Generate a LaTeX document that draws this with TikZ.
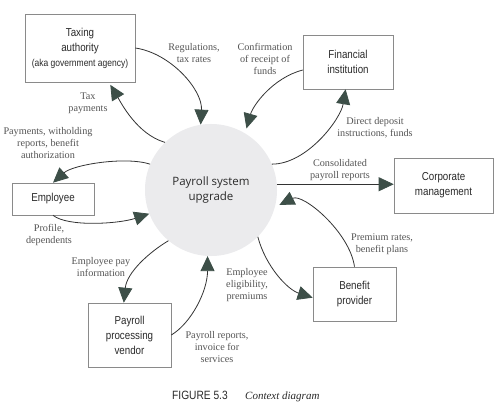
\documentclass[tikz,border=0pt]{standalone}
\usepackage{fontspec}
\setmainfont{Liberation Serif}
\newfontfamily\boxfont[FakeStretch=0.85]{Liberation Sans}
\newfontfamily\circfont{Open Sans}
\usetikzlibrary{arrows.meta}
\definecolor{boxline}{HTML}{8A8A8A}
\definecolor{boxtext}{HTML}{2A2A2A}
\definecolor{lbltext}{HTML}{555555}
\definecolor{flowline}{HTML}{333333}
\definecolor{headcol}{HTML}{3D4F48}
\definecolor{circfill}{HTML}{EBEBED}
\begin{document}
\begin{tikzpicture}[x=1pt,y=-1pt,
  box/.style={draw=boxline, line width=0.6pt, fill=white, inner sep=0pt, align=center,
    font=\boxfont\fontsize{11.5}{15}\selectfont, text=boxtext},
  lbl/.style={align=center, font=\fontsize{10.2}{12}\selectfont, text=lbltext, inner sep=0pt},
  flow/.style={draw=flowline, line width=0.8pt,
    -{Triangle[length=15pt,width=14pt,color=headcol,fill=headcol]}},
]
\useasboundingbox (0,0) rectangle (503,406);
\fill[white] (0,0) rectangle (503,406);

% central process
\node[circle, fill=circfill, minimum size=132pt, inner sep=0pt, align=center,
  font=\circfont\fontsize{11.5}{15}\selectfont, text=boxtext] (c) at (211,190) {Payroll system\\upgrade};

% external entities
\node[box, minimum width=110pt, minimum height=68pt] (tax) at (80,48)
  {Taxing\\authority\\{\fontsize{10}{13}\selectfont(aka government agency)}};
\node[box, minimum width=90pt, minimum height=54pt] (fin) at (348,62) {Financial\\institution};
\node[box, minimum width=99pt, minimum height=55pt] (corp) at (443.5,185.5) {Corporate\\management};
\node[box, minimum width=82pt, minimum height=32pt] (emp) at (53,199) {Employee};
\node[box, minimum width=83pt, minimum height=64pt] (ven) at (129.5,335) {Payroll\\processing\\vendor};
\node[box, minimum width=83pt, minimum height=54pt] (ben) at (354.5,294) {Benefit\\provider};

% flows
\draw[flow] (tax.east) .. controls +(35,5) and +(2,-35) .. (c.99);
\draw[flow, shorten >=3pt] (c.134) .. controls +(-28,-8) and +(12,20) .. (tax.-50);
\draw[flow] (c.157) .. controls +(-25,-8) and +(20,-18) .. (emp.north);
\draw[flow] (emp.south) .. controls +(15,12) and +(-30,10) .. (c.201);
\draw[flow] (c.230) .. controls +(-20,12) and +(3,-30) .. (ven.100);
\draw[flow] (ven.east) .. controls +(20,-12) and +(0,35) .. (c.267);
\draw[flow] (c.315) .. controls +(8,30) and +(-25,-8) .. (ben.185);
\draw[flow, shorten >=5pt] (ben.north) .. controls +(-5,-35) and +(28,-14) .. (c.345);
\draw[flow] (c.5) -- (c.5 -| corp.west);
\draw[flow] (c.23) .. controls +(35,0) and +(-5,30) .. (fin.265);
\draw[flow, shorten >=5pt] (fin.190) .. controls +(-30,8) and +(8,-28) .. (c.59);

% flow labels
\node[lbl] (l1) at (194,53) {Regulations,\\tax rates};
\node[lbl] (l11) at (265,59) {Confirmation\\of receipt of\\funds};
\node[lbl] (l2) at (88,103) {Tax\\payments};
\node[lbl] (l3) at (48,143) {Payments, witholding\\reports, benefit\\authorization};
\node[lbl] (l4) at (49,235) {Profile,\\dependents};
\node[lbl] (l5) at (101,267) {Employee pay\\information};
\node[lbl] (l6) at (217,347) {Payroll reports,\\invoice for\\services};
\node[lbl] (l7) at (247,285) {Employee\\eligibility,\\premiums};
\node[lbl] (l8) at (382,244) {Premium rates,\\benefit plans};
\node[lbl] (l9) at (340,170) {Consolidated\\payroll reports};
\node[lbl] (l10) at (375,128) {Direct deposit\\instructions, funds};

% caption
\node[font=\boxfont\fontsize{12}{14}\selectfont, text=boxtext, anchor=base west, inner sep=0pt] (fig) at (172,399) {FIGURE 5.3};
\node[font=\itshape\fontsize{11}{13}\selectfont, text=boxtext, anchor=base west, inner sep=0pt] (cap) at (245,399) {Context diagram};
\end{tikzpicture}
\end{document}
